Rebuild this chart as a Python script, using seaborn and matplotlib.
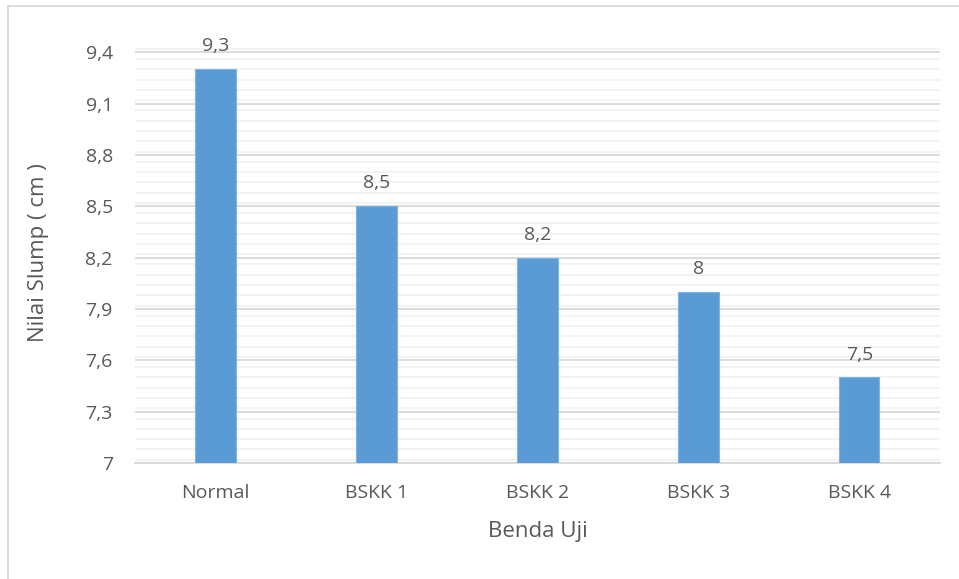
import matplotlib
matplotlib.use("Agg")
import matplotlib.pyplot as plt
from matplotlib.ticker import MultipleLocator, FuncFormatter
from matplotlib.patches import Rectangle
import seaborn as sns
import pandas as pd

categories = ["Normal", "BSKK 1", "BSKK 2", "BSKK 3", "BSKK 4"]
slump_values = [9.3, 8.5, 8.2, 8.0, 7.5]
y_ticks = [7.0, 7.3, 7.6, 7.9, 8.2, 8.5, 8.8, 9.1, 9.4]

df = pd.DataFrame({"Benda Uji": categories, "Nilai Slump": slump_values})

sns.set_theme(style="white")
plt.rcParams["font.family"] = ["Open Sans", "DejaVu Sans"]
text_color = "#595959"

fig = plt.figure(figsize=(9.59, 5.79), dpi=100)
ax = fig.add_axes([0.1408, 0.2003, 0.8392, 0.7272])

sns.barplot(data=df, x="Benda Uji", y="Nilai Slump", color="#5b9bd5",
            width=0.25, saturation=1, edgecolor="#7fb3e0", linewidth=0.8,
            ax=ax, zorder=3)

ax.set_ylim(7.0, 9.46)
ax.set_xlim(-0.5, 4.5)
ax.set_yticks(y_ticks)
ax.yaxis.set_minor_locator(MultipleLocator(0.06))


def comma_fmt(v, pos=None):
    return f"{v:g}".replace(".", ",")


ax.yaxis.set_major_formatter(FuncFormatter(comma_fmt))
ax.grid(True, which="major", axis="y", color="#d9d9d9", linewidth=1.3, zorder=0)
ax.grid(True, which="minor", axis="y", color="#f0f0f0", linewidth=1.1, zorder=0)
ax.set_axisbelow(True)

for s in ["top", "right", "left"]:
    ax.spines[s].set_visible(False)
ax.spines["bottom"].set_color("#d9d9d9")
ax.spines["bottom"].set_linewidth(1.3)

ax.tick_params(axis="both", which="both", length=0, labelsize=14,
               colors=text_color)
ax.tick_params(axis="y", pad=16)
ax.tick_params(axis="x", pad=15)

ax.set_xlabel("Benda Uji", fontsize=16, color=text_color, labelpad=14)
ax.set_ylabel("Nilai Slump ( cm )", fontsize=16, color=text_color, labelpad=26)

for i, v in enumerate(slump_values):
    ax.annotate(comma_fmt(v), xy=(i, v), xytext=(0, 10), textcoords="offset points",
                ha="center", va="bottom", fontsize=14, color=text_color)

# outer chart frame
fig.patches.append(Rectangle((8 / 959, -0.05), 1.2, 1 - 6 / 579 + 0.05,
                             transform=fig.transFigure, fill=False,
                             edgecolor="#d9d9d9", linewidth=1.3))

fig.savefig("out.png", dpi=100, facecolor="white")
